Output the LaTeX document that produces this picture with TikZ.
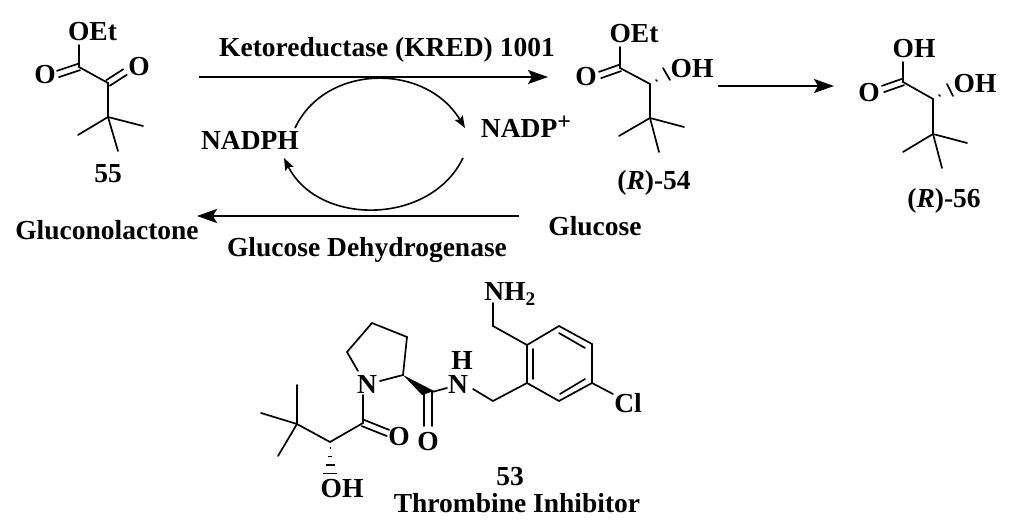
\documentclass[tikz,border=0pt]{standalone}
\usepackage{fontspec}
\setmainfont{Liberation Serif}
\usetikzlibrary{arrows.meta,calc}
\tikzset{
  x=1pt,y=-1pt,
  bond/.style={line width=1.7pt,black,line cap=round},
  rxn/.style={line width=1.7pt,black,-{Stealth[length=20pt,width=14pt,inset=4pt]}},
  cyc/.style={line width=1.6pt,black,-{Stealth[length=12pt,width=9pt,inset=2pt]}},
  lab/.style={anchor=base,inner sep=0pt,outer sep=0pt,font=\fontsize{27.5}{30}\selectfont\bfseries,text=black},
}
\newcommand{\dblbond}[2]{%
  \draw[bond] ($(#1)!3.3pt!90:(#2)$) -- ($(#2)!3.3pt!-90:(#1)$);
  \draw[bond] ($(#1)!3.3pt!-90:(#2)$) -- ($(#2)!3.3pt!90:(#1)$);}
\begin{document}
\begin{tikzpicture}
\useasboundingbox (0,0) rectangle (1024,526);
% reaction scheme
\coordinate (t1) at (199,77); \coordinate (t2) at (548,77);
\coordinate (b1) at (519,216); \coordinate (b2) at (197,216);
\coordinate (r1) at (718,86); \coordinate (r2) at (834,86);
\draw[rxn] (t1) -- (t2);
\draw[rxn] (b1) -- (b2);
\draw[rxn] (r1) -- (r2);
\coordinate (u1) at (295,128); \coordinate (u2) at (465,128);
\coordinate (l1) at (463,158); \coordinate (l2) at (284,158);
\draw[cyc] (u1) .. controls (325,64) and (425,62) .. (u2);
\draw[cyc] (l1) .. controls (430,226) and (318,226) .. (l2);
\node[lab] (keto) at (387,57) {Ketoreductase (KRED) 1001};
\node[lab] (nadph) at (250,150) {NADPH};
\node[lab] (nadp) at (526,138) {NADP\raisebox{8pt}{\fontsize{24}{24}\selectfont +}};
\node[lab] (glu) at (595,236) {Glucose};
\node[lab] (gln) at (107,240) {Gluconolactone};
\node[lab] (gdh) at (367,257) {Glucose Dehydrogenase};
% 55
\coordinate (a1) at (79,67); \coordinate (a2) at (108,83); \coordinate (a3) at (108,117);
\coordinate (a4) at (78,135); \coordinate (a5) at (143,126); \coordinate (a6) at (118,151);
\coordinate (a7) at (79,45); \coordinate (a8) at (58,74); \coordinate (a9) at (125,72);
\draw[bond] (a7) -- (a1) -- (a2) -- (a3) -- (a4);
\draw[bond] (a3) -- (a5); \draw[bond] (a3) -- (a6);
\dblbond{a1}{a8} \dblbond{a2}{a9}
\node[lab] (aoet) at (92.5,41) {OEt};
\node[lab] (ao1) at (45,84) {O};
\node[lab] (ao2) at (139,76) {O};
\node[lab] (n55) at (108,183) {55};
% 54
\coordinate (c1) at (620,68); \coordinate (c2) at (650,84); \coordinate (c3) at (650,118);
\coordinate (c4) at (619,136); \coordinate (c5) at (684,127); \coordinate (c6) at (659,152);
\coordinate (c7) at (620,47); \coordinate (c8) at (600,75);
\draw[bond] (c7) -- (c1) -- (c2) -- (c3) -- (c4);
\draw[bond] (c3) -- (c5); \draw[bond] (c3) -- (c6);
\dblbond{c1}{c8}
\coordinate (ch1) at (656,80); \coordinate (ch2) at (657,81);
\coordinate (ch3) at (663,68); \coordinate (ch4) at (670,80);
\draw[bond] (ch1) -- (ch2); \draw[bond] (ch3) -- (ch4);
\node[lab] (coet) at (634,43) {OEt};
\node[lab] (co) at (586,86) {O};
\node[lab] (coh) at (692,78) {OH};
\node[lab] (n54) at (654,190) {(\textit{R})-54};
% 56
\coordinate (d1) at (903,82); \coordinate (d2) at (933,99); \coordinate (d3) at (933,134);
\coordinate (d4) at (903,152); \coordinate (d5) at (967,143); \coordinate (d6) at (942,168);
\coordinate (d7) at (903,62); \coordinate (d8) at (883,89);
\draw[bond] (d7) -- (d1) -- (d2) -- (d3) -- (d4);
\draw[bond] (d3) -- (d5); \draw[bond] (d3) -- (d6);
\dblbond{d1}{d8}
\coordinate (dh1) at (939,95); \coordinate (dh2) at (940,96);
\coordinate (dh3) at (947,84); \coordinate (dh4) at (953,96);
\draw[bond] (dh1) -- (dh2); \draw[bond] (dh3) -- (dh4);
\node[lab] (doh1) at (914,58) {OH};
\node[lab] (do) at (869,102) {O};
\node[lab] (doh2) at (975,93) {OH};
\node[lab] (n56) at (944,208) {(\textit{R})-56};
% 53
\coordinate (r1a) at (527,345); \coordinate (r2a) at (559,326); \coordinate (r3a) at (592,344);
\coordinate (r4a) at (592,383); \coordinate (r5a) at (559,401); \coordinate (r6a) at (527,383);
\draw[bond] (r1a) -- (r2a) -- (r3a) -- (r4a) -- (r5a) -- (r6a) -- cycle;
\coordinate (i1) at (559,333); \coordinate (i2) at (585,348);
\coordinate (i3) at (585,379); \coordinate (i4) at (560,394);
\coordinate (i5) at (533,349); \coordinate (i6) at (533,379);
\draw[bond] (i1) -- (i2);
\draw[bond] (i3) -- (i4);
\draw[bond] (i5) -- (i6);
\coordinate (m1) at (493,326); \coordinate (m2) at (493,303);
\draw[bond] (m2) -- (m1) -- (r1a);
\coordinate (m3) at (493,401); \coordinate (m4) at (473,389);
\draw[bond] (m4) -- (m3) -- (r6a);
\coordinate (cl1) at (613,394);
\draw[bond] (r4a) -- (cl1);
\coordinate (am) at (432,392); \coordinate (amn) at (447,388);
\coordinate (am1) at (424,394); \coordinate (am2) at (424,426); \coordinate (am3) at (432,426);
\draw[bond] (am) -- (amn);
\draw[bond] (am) -- (am3);
\draw[bond] (am1) -- (am2);
\coordinate (pa) at (403,375); \coordinate (pb) at (407,337); \coordinate (pc) at (372,323);
\coordinate (pd) at (347,352); \coordinate (pe) at (358,371); \coordinate (pf) at (380,381);
\draw[bond] (pe) -- (pd) -- (pc) -- (pb) -- (pa) -- (pf);
\coordinate (w1) at (422,395); \coordinate (w2) at (434,391);
\fill[black] (pa) -- (w1) -- (w2) -- cycle;
\coordinate (q1) at (363,395); \coordinate (q2) at (363,423); \coordinate (q3) at (388,433);
\coordinate (q4) at (330,442); \coordinate (q5) at (297,424);
\coordinate (q6) at (297,385); \coordinate (q7) at (261,413); \coordinate (q8) at (278,456);
\draw[bond] (q1) -- (q2) -- (q4) -- (q5) -- (q6);
\draw[bond] (q5) -- (q7); \draw[bond] (q5) -- (q8);
\dblbond{q2}{q3}
\draw[line width=1.4pt] (329.5,448) -- (330.5,448);
\draw[line width=1.4pt] (328,456.5) -- (332,456.5);
\draw[line width=1.4pt] (325.5,465) -- (334.5,465);
\draw[line width=1.6pt] (323,473.5) -- (337,473.5);
\node[lab] (nh2) at (510,301) {NH\textsubscript{2}};
\node[lab] (hh) at (462,369) {H};
\node[lab] (nn) at (458,393.5) {N};
\node[lab] (cl) at (628,412) {Cl};
\node[lab] (pn) at (367,393.5) {N};
\node[lab] (oa) at (399,445) {O};
\node[lab] (ob) at (428,450) {O};
\node[lab] (oh) at (342,497) {OH};
\node[lab] (n53) at (510,485) {53};
\node[lab] (thr) at (517,512) {Thrombine Inhibitor};
\end{tikzpicture}
\end{document}
